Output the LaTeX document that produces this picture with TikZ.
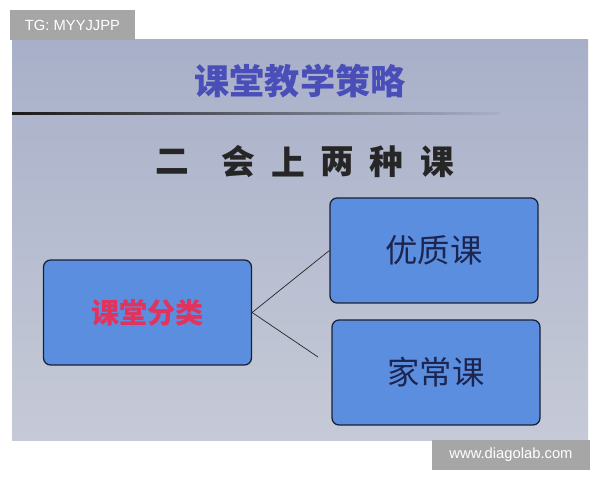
\documentclass[tikz,border=0pt]{standalone}
\usepackage{fontspec}
\usepackage{xcolor}
\setmainfont{Liberation Sans}
\newfontfamily\cjk{Noto Sans CJK SC}
\definecolor{slidetop}{HTML}{A8B0C9}
\definecolor{slidebot}{HTML}{C6CAD7}
\definecolor{boxblue}{HTML}{5B8EDE}
\definecolor{boxline}{HTML}{1A2038}
\definecolor{titleblue}{HTML}{4A4EB8}
\definecolor{navytext}{HTML}{1C2450}
\definecolor{redtext}{HTML}{E2335E}
\definecolor{tagray}{HTML}{A6A6A6}

\begin{document}
\begin{tikzpicture}[x=0.05cm, y=-0.05cm,
    card/.style={draw=boxline, line width=1.8pt, fill=boxblue, rounded corners=10pt,
                 minimum width=10.4cm, minimum height=5.25cm, inner sep=0pt},
    tag/.style={fill=tagray, text=white, inner sep=0pt, font=\fontsize{21}{21}\selectfont},
    link/.style={black!85, line width=1pt}]
\useasboundingbox (0,0) rectangle (600,480);
\fill[white] (0,0) rectangle (600,480);
\shade[top color=slidetop, bottom color=slidebot] (12,40) rectangle (588,440);
\shade[left color=black!90, right color=slidetop] (12,113) rectangle (500,114.4);

\node (title) [text=titleblue, font=\cjk\bfseries\fontsize{50}{50}\selectfont] at (300,81) {课堂教学策略};
\foreach \c/\x in {二/172,会/238,上/288,两/337,种/386,课/437}
    \node (s\x) [text=black!85, font=\cjk\bfseries\fontsize{48}{48}\selectfont] at (\x,162) {\c};

\node (kind) [card] at (147.5,312.5) {};
\node [text=redtext, font=\cjk\bfseries\fontsize{40}{40}\selectfont] at (kind) {课堂分类};
\node (good) [card] at (434,250.5) {};
\node [text=navytext, font=\cjk\fontsize{46}{46}\selectfont] at (good) {优质课};
\node (home) [card] at (436,372.5) {};
\node [text=navytext, font=\cjk\fontsize{46}{46}\selectfont] at (home) {家常课};

\coordinate (homeend) at (318,357);
\draw[link] (kind.east) -- (good.west);
\draw[link] (kind.east) -- (homeend);

\node (tg) [tag, minimum width=6.25cm, minimum height=1.5cm] at (72.5,25) {TG: MYYJJPP};
\node (site) [tag, minimum width=7.9cm, minimum height=1.5cm] at (511,455) {www.diagolab.com};
\end{tikzpicture}
\end{document}
